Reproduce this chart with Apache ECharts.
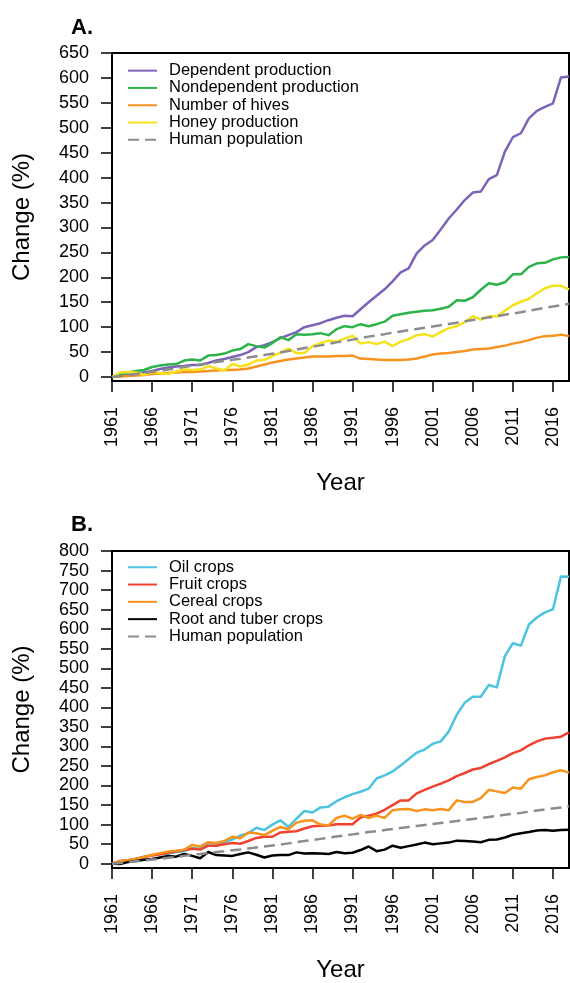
<!DOCTYPE html>
<html>
<head>
<meta charset="utf-8">
<script src="https://cdn.jsdelivr.net/npm/echarts@6/dist/echarts.min.js"></script>
<style>
  html, body { margin: 0; padding: 0; background: #fff; }
  #chart { width: 570px; height: 983px; }
</style>
</head>
<body>
<div id="chart"></div>
<script>
// Years covered by both panels
const years = [];
for (let y = 1961; y <= 2018; y++) years.push(y);

// Axis tick labels
const yearTicks = [1961, 1966, 1971, 1976, 1981, 1986, 1991, 1996, 2001, 2006, 2011, 2016];
const changeTicksA = [0, 50, 100, 150, 200, 250, 300, 350, 400, 450, 500, 550, 600, 650];
const changeTicksB = [0, 50, 100, 150, 200, 250, 300, 350, 400, 450, 500, 550, 600, 650, 700, 750, 800];

// Panel A: change (%) since 1961
const dependentProduction = [0, 2, 4, 6, 9, 12, 16, 19, 21, 22, 24, 24, 28, 33, 36, 40, 44, 50, 60, 64,
  70, 78, 84, 90, 100, 104, 108, 114, 119, 123, 122, 136, 150, 163, 176, 192, 210, 218, 248, 264,
  275, 296, 318, 336, 355, 370, 372, 397, 405, 452, 481, 489, 519, 534, 542, 549, 601, 603];
const nondependentProduction = [0, 5, 9, 12, 14, 20, 23, 25, 26, 33, 35, 33, 43, 44, 47, 53, 56, 66, 62, 59,
  68, 80, 74, 86, 85, 86, 88, 84, 96, 102, 100, 106, 102, 106, 111, 123, 126, 129, 131, 133,
  134, 137, 141, 154, 153, 160, 175, 188, 185, 190, 206, 206, 221, 228, 229, 236, 240, 241];
const numberOfHives = [0, 1, 2, 3, 4, 6, 7, 8, 9, 10, 10, 11, 12, 13, 14, 14, 15, 17, 21, 25,
  29, 32, 35, 37, 39, 41, 41, 41, 42, 42, 43, 37, 36, 35, 34, 34, 34, 35, 37, 41,
  45, 47, 48, 50, 52, 55, 56, 57, 60, 63, 67, 70, 74, 79, 82, 83, 85, 82];
const honeyProduction = [0, 9, 10, 9, 4, 10, 8, 6, 11, 15, 14, 15, 22, 17, 13, 26, 21, 25, 33, 34,
  42, 49, 57, 48, 48, 62, 68, 73, 71, 77, 83, 67, 70, 66, 71, 62, 71, 76, 84, 86,
  81, 90, 98, 102, 110, 122, 115, 122, 122, 133, 144, 151, 157, 168, 178, 183, 183, 176];
const humanPopulation = [0, 2, 4, 6, 8, 10.5, 12.5, 15, 17.5, 20, 22.5, 25, 27.5, 30, 32, 34.5, 36.5, 39, 41.5, 44,
  46.5, 49, 52, 55, 58, 60.5, 63.5, 66.5, 69.5, 72, 75, 78, 81, 83.5, 86, 89, 91.5, 94, 96.5, 99,
  101.5, 104, 106.5, 109, 112, 114.5, 117, 119.5, 122, 125, 127.5, 130, 133, 136, 139, 141.5, 144, 147];

// Panel B: change (%) since 1961
const oilCrops = [0, 5, 8, 12, 18, 22, 25, 26, 30, 32, 40, 38, 53, 51, 55, 62, 72, 78, 92, 86,
  100, 111, 94, 115, 135, 131, 144, 146, 160, 170, 178, 184, 192, 218, 226, 236, 251, 268, 284, 292,
  307, 313, 338, 381, 412, 427, 427, 457, 451, 531, 564, 558, 612, 630, 643, 651, 735, 734];
const fruitCrops = [0, 7, 9, 13, 17, 21, 24, 28, 31, 35, 38, 36, 46, 46, 50, 53, 51, 58, 66, 69,
  69, 80, 82, 83, 90, 96, 97, 98, 101, 101, 101, 118, 123, 128, 138, 150, 162, 162, 180, 189,
  197, 205, 213, 224, 232, 241, 245, 255, 263, 272, 283, 290, 303, 313, 320, 322, 325, 336];
const cerealCrops = [0, 6, 9, 12, 17, 23, 27, 31, 33, 36, 48, 44, 55, 53, 58, 69, 65, 80, 78, 73,
  84, 94, 88, 105, 110, 111, 100, 98, 117, 123, 115, 125, 117, 123, 117, 137, 139, 140, 135, 139,
  137, 140, 137, 162, 158, 158, 168, 189, 185, 181, 195, 192, 216, 222, 226, 234, 239, 233];
const rootTuberCrops = [0, -1, 4, 7, 10, 12, 16, 20, 18, 25, 20, 14, 30, 22, 21, 20, 25, 29, 23, 16,
  21, 22, 22, 29, 26, 27, 26, 25, 30, 27, 28, 35, 44, 32, 36, 46, 41, 45, 49, 54,
  50, 52, 54, 59, 58, 57, 55, 61, 62, 67, 74, 78, 81, 85, 86, 84, 86, 87];

const FONT = '"Liberation Sans", Arial, Helvetica, sans-serif';

const pairs = vals => years.map((y, i) => [y, vals[i]]);

function lineSeries(name, vals, color, idx, dashed) {
  return {
    type: 'line',
    name: name,
    data: pairs(vals),
    xAxisIndex: idx,
    yAxisIndex: idx,
    symbol: 'none',
    silent: true,
    animation: false,
    lineStyle: dashed
      ? { color: color, width: 2.5, type: [11, 6] }
      : { color: color, width: 2.5, join: 'round' },
    itemStyle: { color: color }
  };
}

function xAxisDef(idx) {
  return {
    type: 'value',
    gridIndex: idx,
    min: 1961,
    max: 2018,
    name: 'Year',
    nameLocation: 'middle',
    nameGap: 90,
    nameTextStyle: { fontFamily: FONT, fontSize: 24, color: '#000' },
    axisLine: { show: true, onZero: false, lineStyle: { color: '#000', width: 2 } },
    axisTick: { show: true, customValues: yearTicks, length: 11, lineStyle: { color: '#000', width: 1.5 } },
    axisLabel: {
      show: true, customValues: yearTicks, rotate: 90, margin: 26,
      formatter: v => String(v),
      fontFamily: FONT, fontSize: 18, color: '#000'
    },
    splitLine: { show: false }
  };
}

function yAxisDef(idx, min, max, ticks) {
  return {
    type: 'value',
    gridIndex: idx,
    min: min,
    max: max,
    name: 'Change (%)',
    nameLocation: 'middle',
    nameGap: 78,
    nameTextStyle: { fontFamily: FONT, fontSize: 24, color: '#000' },
    axisLine: { show: true, onZero: false, lineStyle: { color: '#000', width: 2 } },
    axisTick: { show: true, customValues: ticks, length: 11, lineStyle: { color: '#000', width: 1.5 } },
    axisLabel: {
      show: true, customValues: ticks, margin: 23,
      formatter: v => String(v),
      fontFamily: FONT, fontSize: 18, color: '#000'
    },
    splitLine: { show: false }
  };
}

function legendDef(names, top) {
  return {
    data: names,
    orient: 'vertical',
    left: 127,
    top: top,
    padding: 0,
    itemGap: 0,
    itemWidth: 29,
    itemHeight: 10,
    selectedMode: false,
    itemStyle: { opacity: 0 },
    textStyle: { fontFamily: FONT, fontSize: 16.5, color: '#000', lineHeight: 17.3, padding: [0, 0, 0, 7] }
  };
}

const namesA = ['Dependent production', 'Nondependent production', 'Number of hives', 'Honey production', 'Human population'];
const namesB = ['Oil crops', 'Fruit crops', 'Cereal crops', 'Root and tuber crops', 'Human population '];

const chart = echarts.init(document.getElementById('chart'), null, { renderer: 'canvas' });
chart.setOption({
  backgroundColor: '#fff',
  animation: false,
  title: [
    { text: 'A.', left: 66, top: 12, textStyle: { fontFamily: FONT, fontSize: 22, fontWeight: 'bold', color: '#000' } },
    { text: 'B.', left: 66, top: 509, textStyle: { fontFamily: FONT, fontSize: 22, fontWeight: 'bold', color: '#000' } }
  ],
  grid: [
    { left: 112, top: 53, width: 457, height: 328, show: true, borderColor: '#000', borderWidth: 2, backgroundColor: 'transparent' },
    { left: 112, top: 551, width: 457, height: 328, show: true, borderColor: '#000', borderWidth: 2, backgroundColor: 'transparent' }
  ],
  xAxis: [xAxisDef(0), xAxisDef(1)],
  yAxis: [yAxisDef(0, -8, 650, changeTicksA), yAxisDef(1, -11, 800, changeTicksB)],
  legend: [legendDef(namesA, 62), legendDef(namesB, 558.6)],
  series: [
    lineSeries(namesA[0], dependentProduction, '#7D63B8', 0),
    lineSeries(namesA[1], nondependentProduction, '#2DB34A', 0),
    lineSeries(namesA[2], numberOfHives, '#F7931E', 0),
    lineSeries(namesA[3], honeyProduction, '#F5E21A', 0),
    lineSeries(namesA[4], humanPopulation, '#8C8C8C', 0, true),
    lineSeries(namesB[0], oilCrops, '#4CC4E0', 1),
    lineSeries(namesB[1], fruitCrops, '#EE4130', 1),
    lineSeries(namesB[2], cerealCrops, '#F7941D', 1),
    lineSeries(namesB[3], rootTuberCrops, '#000000', 1),
    lineSeries(namesB[4], humanPopulation, '#8C8C8C', 1, true)
  ]
});
</script>
</body>
</html>
